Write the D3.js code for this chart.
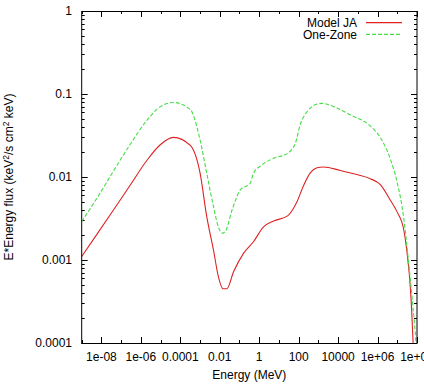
<!DOCTYPE html>
<html>
<head>
<meta charset="utf-8">
<script src="https://cdn.jsdelivr.net/npm/d3@7"></script>
<style>
  body { margin: 0; background: #fff; }
  text { font-family: "Liberation Sans", Arial, sans-serif; font-size: 12px; fill: #000; }
</style>
</head>
<body>
<div id="chart"></div>
<script>
"use strict";

// Model JA (red, solid)
const jaEnergy = [1e-9, 5.75e-9, 4.0e-8, 2.8e-7, 2.0e-6, 9.3e-6, 4.5e-5, 3.2e-4, 1e-3, 2.2e-3, 4.8e-3, 8.5e-3, 1.45e-2, 2.3e-2, 5.0e-2, 0.16, 0.51, 1.66, 5.4, 27.5, 81, 178, 389, 851, 1820, 1.29e4, 9.1e4, 4.27e5, 1.38e6, 4.47e6, 9.8e6, 2.14e7, 3.16e7, 4.68e7, 6.3e7, 7.1e7];
const jaFlux = [1.1e-3, 2.02e-3, 3.98e-3, 7.9e-3, 1.58e-2, 2.43e-2, 3.0e-2, 2.4e-2, 1.12e-2, 3.3e-3, 1.32e-3, 6.3e-4, 4.5e-4, 4.5e-4, 7.2e-4, 1.2e-3, 1.66e-3, 2.5e-3, 2.95e-3, 3.4e-3, 5.0e-3, 7.9e-3, 1.12e-2, 1.29e-2, 1.32e-2, 1.2e-2, 1.07e-2, 9.55e-3, 8.1e-3, 5.25e-3, 3.8e-3, 2.3e-3, 1.2e-3, 4.4e-4, 1.05e-4, 5e-5];

// One-Zone (green, dashed)
const ozEnergy = [1e-9, 5.75e-9, 4.0e-8, 2.8e-7, 2.0e-6, 9.3e-6, 4.5e-5, 3.2e-4, 1e-3, 2.2e-3, 4.8e-3, 8.5e-3, 1.3e-2, 1.9e-2, 4.2e-2, 0.11, 0.35, 0.51, 1.38, 5.4, 27.5, 68, 120, 263, 692, 1510, 8700, 4.17e4, 4.27e5, 1.38e6, 4.47e6, 9.8e6, 2.14e7, 3.8e7, 5.6e7, 7.4e7, 8.9e7, 1e8];
const ozFlux = [2.9e-3, 5.5e-3, 1.17e-2, 2.45e-2, 4.8e-2, 7.0e-2, 7.9e-2, 6.5e-2, 2.8e-2, 1.1e-2, 4.4e-3, 2.5e-3, 2.1e-3, 2.2e-3, 4.0e-3, 7.0e-3, 8.4e-3, 1.1e-2, 1.4e-2, 1.68e-2, 1.93e-2, 2.55e-2, 4.3e-2, 6.1e-2, 7.4e-2, 7.7e-2, 6.76e-2, 5.6e-2, 4.12e-2, 2.99e-2, 1.64e-2, 8.7e-3, 3.16e-3, 9.1e-4, 3.6e-4, 1.74e-4, 1e-4, 6e-5];

const xTickValues = [1e-8, 1e-6, 1e-4, 1e-2, 1, 1e2, 1e4, 1e6, 1e8];
const xTickLabels = ["1e-08", "1e-06", "0.0001", "0.01", "1", "100", "10000", "1e+06", "1e+08"];
const yTickValues = [1e-4, 1e-3, 1e-2, 1e-1, 1];
const yTickLabels = ["0.0001", "0.001", "0.01", "0.1", "1"];

const series = [
    {name: "Model JA", energy: jaEnergy, flux: jaFlux, color: "#dd2222", dash: null},
    {name: "One-Zone", energy: ozEnergy, flux: ozFlux, color: "#44dd44", dash: "4,2"}
];

const width = 424, height = 385;
const plotLeft = 81.7, plotRight = 417, plotTop = 11, plotBottom = 343;

const svg = d3.select("#chart").append("svg")
    .attr("width", width)
    .attr("height", height);

const x = d3.scaleLog().domain([1e-9, 1e8]).range([plotLeft, plotRight]);
const y = d3.scaleLog().domain([1e-4, 1]).range([plotBottom, plotTop]);

svg.append("clipPath").attr("id", "plot-clip")
    .append("rect")
    .attr("x", plotLeft).attr("y", plotTop)
    .attr("width", plotRight - plotLeft).attr("height", plotBottom - plotTop);

// ticks, drawn inward on all four sides
const tickG = svg.append("g").attr("stroke", "#000").attr("stroke-width", 1);

const xMinor = d3.range(-9, 9).map(p => Math.pow(10, p)).filter(v => !xTickValues.includes(v));
xTickValues.forEach(v => {
    const px = Math.round(x(v)) + 0.5;
    tickG.append("line").attr("x1", px).attr("x2", px).attr("y1", plotBottom).attr("y2", plotBottom - 6);
    tickG.append("line").attr("x1", px).attr("x2", px).attr("y1", plotTop).attr("y2", plotTop + 6);
});
xMinor.forEach(v => {
    const px = Math.round(x(v)) + 0.5;
    tickG.append("line").attr("x1", px).attr("x2", px).attr("y1", plotBottom).attr("y2", plotBottom - 3);
    tickG.append("line").attr("x1", px).attr("x2", px).attr("y1", plotTop).attr("y2", plotTop + 3);
});

const yMinor = [];
for (let p = -4; p < 0; p++) {
    for (let m = 2; m <= 9; m++) yMinor.push(m * Math.pow(10, p));
}
yTickValues.forEach(v => {
    const py = Math.round(y(v)) + 0.5;
    tickG.append("line").attr("x1", plotLeft).attr("x2", plotLeft + 6).attr("y1", py).attr("y2", py);
    tickG.append("line").attr("x1", plotRight).attr("x2", plotRight - 6).attr("y1", py).attr("y2", py);
});
yMinor.forEach(v => {
    const py = Math.round(y(v)) + 0.5;
    tickG.append("line").attr("x1", plotLeft).attr("x2", plotLeft + 3).attr("y1", py).attr("y2", py);
    tickG.append("line").attr("x1", plotRight).attr("x2", plotRight - 3).attr("y1", py).attr("y2", py);
});

// tick labels
svg.append("g").selectAll("text")
    .data(xTickValues)
    .join("text")
    .attr("x", d => x(d))
    .attr("y", 360.7)
    .attr("text-anchor", "middle")
    .text((d, i) => xTickLabels[i]);

svg.append("g").selectAll("text")
    .data(yTickValues)
    .join("text")
    .attr("x", 72)
    .attr("y", d => y(d))
    .attr("dy", "0.35em")
    .attr("text-anchor", "end")
    .text((d, i) => yTickLabels[i]);

// axis titles
svg.append("text")
    .attr("x", (plotLeft + plotRight) / 2)
    .attr("y", 379.3)
    .attr("text-anchor", "middle")
    .text("Energy (MeV)");

const yTitle = svg.append("text")
    .attr("transform", `translate(13,${(plotTop + plotBottom) / 2}) rotate(-90)`)
    .attr("text-anchor", "middle");
yTitle.append("tspan").text("E*Energy flux (keV");
yTitle.append("tspan").attr("dy", -4.5).style("font-size", "8.5px").text("2");
yTitle.append("tspan").attr("dy", 4.5).text("/s cm");
yTitle.append("tspan").attr("dy", -4.5).style("font-size", "8.5px").text("2");
yTitle.append("tspan").attr("dy", 4.5).text(" keV)");

// curves
const line = d3.line()
    .x(d => x(d[0]))
    .y(d => y(d[1]))
    .curve(d3.curveMonotoneX);

const plot = svg.append("g").attr("clip-path", "url(#plot-clip)");
series.forEach(s => {
    plot.append("path")
        .datum(d3.zip(s.energy, s.flux))
        .attr("fill", "none")
        .attr("stroke", s.color)
        .attr("stroke-width", 1.1)
        .attr("stroke-dasharray", s.dash)
        .attr("d", line);
});

// frame
svg.append("rect")
    .attr("x", plotLeft).attr("y", plotTop + 0.5)
    .attr("width", plotRight - plotLeft).attr("height", plotBottom - plotTop)
    .attr("fill", "none")
    .attr("stroke", "#000")
    .attr("stroke-width", 1);

// legend
const legend = svg.append("g");
series.forEach((s, i) => {
    const ly = 22.6 + i * 11.8;
    legend.append("text")
        .attr("x", 357)
        .attr("y", ly)
        .attr("dy", "0.35em")
        .attr("text-anchor", "end")
        .text(s.name);
    legend.append("line")
        .attr("x1", 366).attr("x2", 402)
        .attr("y1", ly).attr("y2", ly)
        .attr("stroke", s.color)
        .attr("stroke-width", 1.1)
        .attr("stroke-dasharray", s.dash);
});
</script>
</body>
</html>
